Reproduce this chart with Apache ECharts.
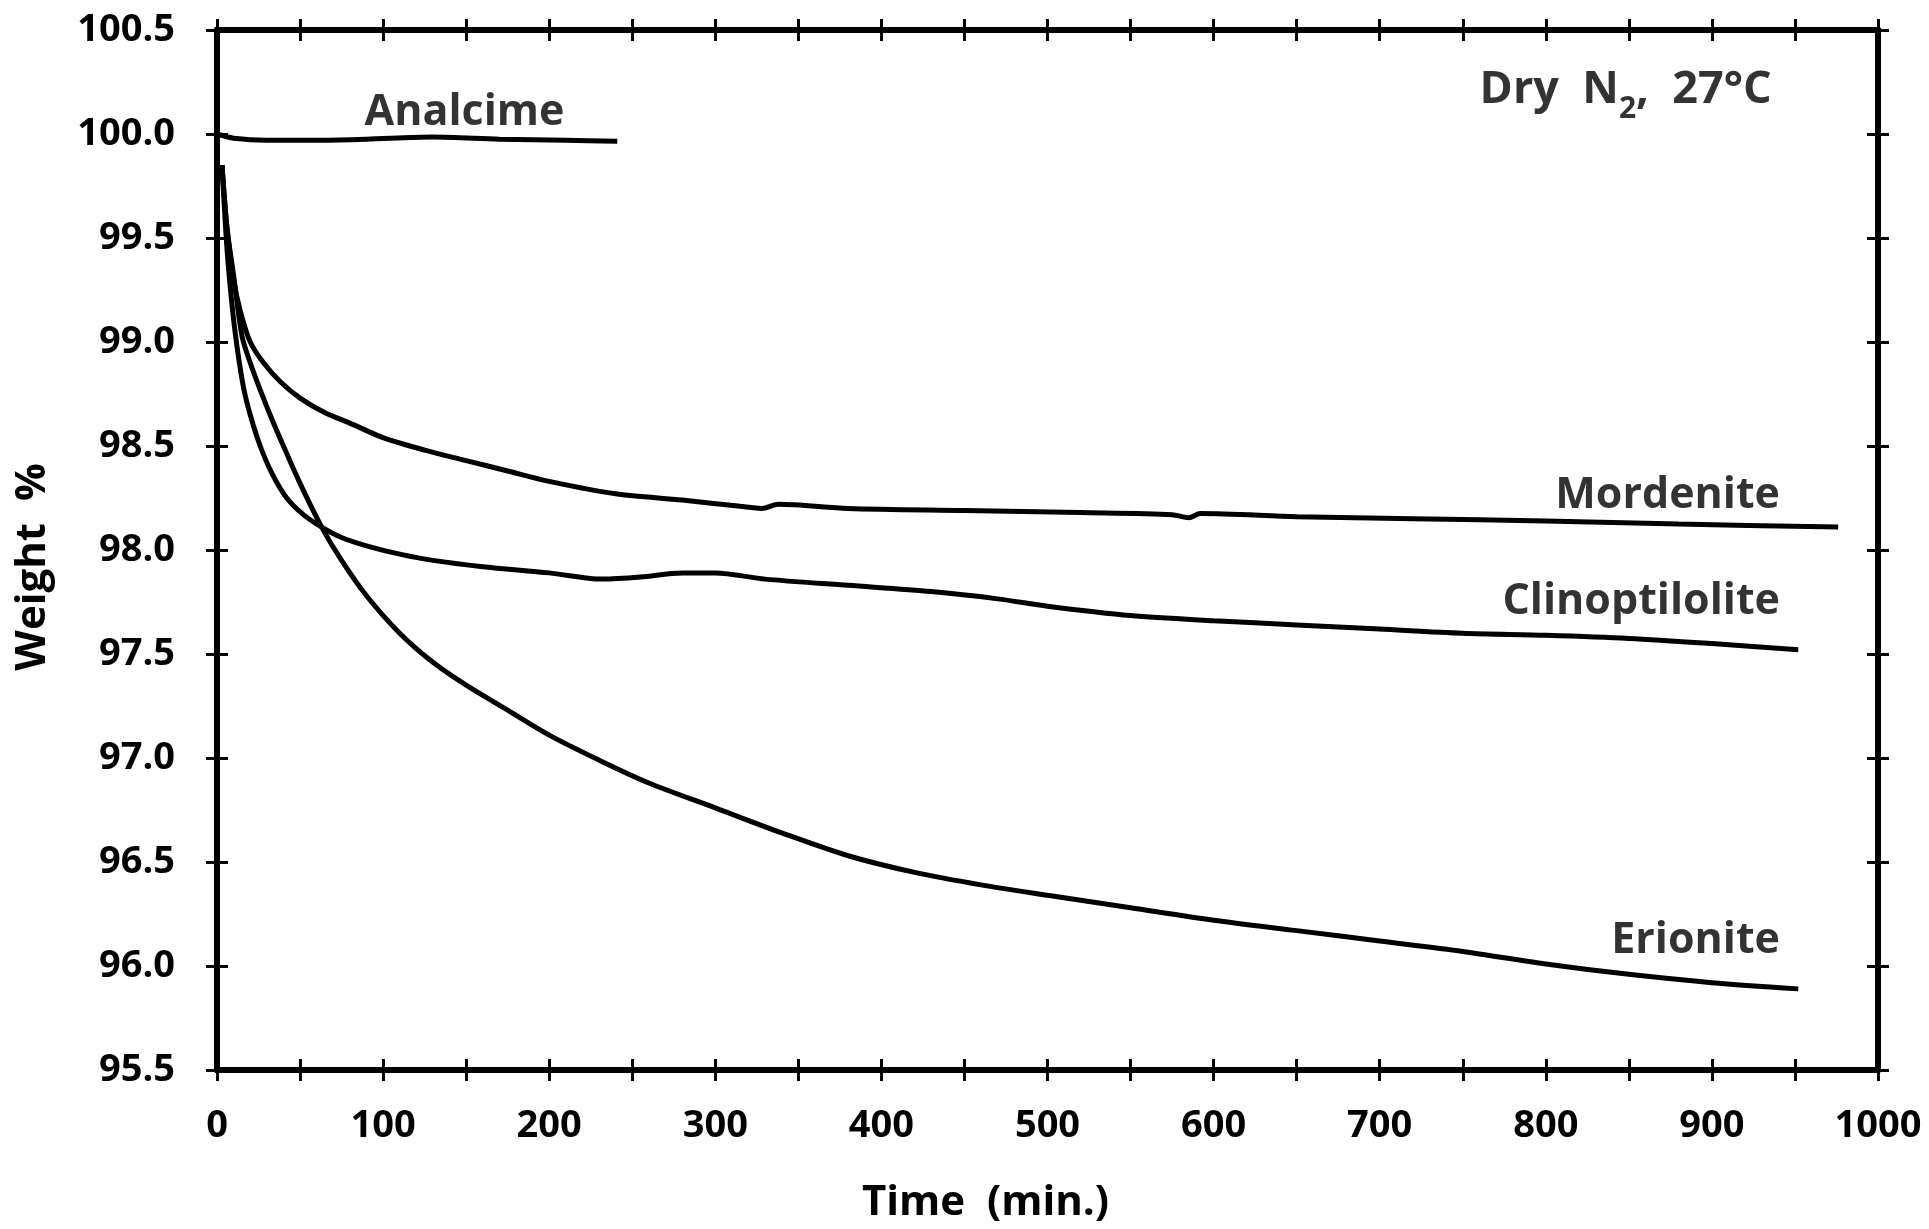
<!DOCTYPE html>
<html>
<head>
<meta charset="utf-8">
<script src="https://cdn.jsdelivr.net/npm/echarts@6/dist/echarts.min.js"></script>
<style>
  html, body { margin: 0; padding: 0; background: #fff; }
  #main { width: 1929px; height: 1229px; }
</style>
</head>
<body>
<div id="main"></div>
<script>
// weight loss under dry N2 at 27 C
const analcimeTime = [0, 10, 30, 60, 90, 130, 170, 210, 241];
const analcimeWeight = [100.0, 99.98, 99.97, 99.97, 99.975, 99.985, 99.975, 99.97, 99.965];

const mordeniteTime = [3, 6, 10, 14, 20, 28, 38, 50, 65, 80, 100, 125, 150, 175, 200, 240, 280, 315, 328, 338, 380, 450, 520, 575, 585, 592, 650, 720, 800, 880, 976];
const mordeniteWeight = [99.85, 99.55, 99.3, 99.15, 99.0, 98.9, 98.81, 98.73, 98.66, 98.61, 98.54, 98.48, 98.43, 98.38, 98.33, 98.27, 98.24, 98.21, 98.2, 98.22, 98.2, 98.19, 98.18, 98.17, 98.155, 98.175, 98.16, 98.15, 98.14, 98.125, 98.11];

const clinoTime = [3, 6, 9, 12, 16, 20, 26, 33, 42, 52, 63, 75, 90, 110, 130, 160, 200, 232, 255, 280, 300, 330, 380, 430, 470, 500, 550, 600, 650, 700, 750, 800, 850, 900, 952];
const clinoWeight = [99.85, 99.45, 99.18, 98.98, 98.78, 98.65, 98.5, 98.37, 98.25, 98.17, 98.11, 98.06, 98.02, 97.98, 97.95, 97.92, 97.89, 97.86, 97.87, 97.89, 97.89, 97.86, 97.83, 97.8, 97.765, 97.73, 97.685, 97.66, 97.64, 97.62, 97.6, 97.59, 97.575, 97.55, 97.52];

const erioniteTime = [3, 6, 10, 15, 20, 26, 33, 40, 50, 63, 75, 90, 110, 130, 150, 175, 200, 230, 260, 300, 340, 380, 420, 460, 500, 550, 600, 650, 700, 750, 800, 850, 900, 952];
const erioniteWeight = [99.85, 99.55, 99.32, 99.03, 98.9, 98.77, 98.63, 98.5, 98.32, 98.11, 97.95, 97.78, 97.6, 97.46, 97.35, 97.23, 97.11, 96.99, 96.88, 96.76, 96.64, 96.53, 96.45, 96.39, 96.34, 96.28, 96.22, 96.17, 96.12, 96.07, 96.01, 95.96, 95.92, 95.89];

// text notes: [time, weight, text, align]
const notes = [
  [149, 100.1, 'Analcime', 'center'],
  [941, 98.26, 'Mordenite', 'right'],
  [941, 97.75, 'Clinoptilolite', 'right'],
  [941, 96.12, 'Erionite', 'right']
];

const FONT = 'Open Sans';

function pairs(xs, ys) {
  return xs.map((x, i) => [x, ys[i]]);
}

//时间轴 (two per side so the ticks cross the line)
function timeAxis(pos, inside, labels) {
  return {
    type: 'value',
    position: pos,
    min: 0,
    max: 1000,
    interval: 50,
    name: labels ? 'Time  (min.)' : '',
    nameLocation: 'middle',
    nameGap: 112,
    nameTextStyle: {
      fontFamily: FONT, fontWeight: 'bold', fontSize: 42, color: '#000',
      padding: [0, 124, 0, 0]
    },
    axisLine: { show: true, onZero: false, lineStyle: { color: '#000', width: 6 } },
    axisTick: { show: true, inside: inside, length: 11, lineStyle: { color: '#000', width: 3 } },
    axisLabel: {
      show: labels,
      margin: 37,
      fontFamily: FONT, fontWeight: 'bold', fontSize: 38, color: '#000',
      formatter: v => (v % 100 === 0 ? String(v) : '')
    },
    splitLine: { show: false }
  };
}

function weightAxis(pos, inside, labels) {
  return {
    type: 'value',
    position: pos,
    min: 95.5,
    max: 100.5,
    interval: 0.5,
    name: labels ? 'Weight  %' : '',
    nameLocation: 'middle',
    nameGap: 163,
    nameRotate: 90,
    nameTextStyle: {
      fontFamily: FONT, fontWeight: 'bold', fontSize: 42, color: '#000',
      padding: [0, 34, 0, 0]
    },
    axisLine: { show: true, onZero: false, lineStyle: { color: '#000', width: 6 } },
    axisTick: { show: true, inside: inside, length: 11, lineStyle: { color: '#000', width: 3 } },
    axisLabel: {
      show: labels,
      margin: 42,
      fontFamily: FONT, fontWeight: 'bold', fontSize: 38, color: '#000',
      formatter: v => v.toFixed(1)
    },
    splitLine: { show: false }
  };
}

function curve(name, xs, ys) {
  return {
    name: name,
    type: 'line',
    data: pairs(xs, ys),
    showSymbol: false,
    smooth: 0.3,
    lineStyle: { color: '#000', width: 5 },
    silent: true
  };
}

const chart = echarts.init(document.getElementById('main'));

let options = {
  animation: false,
  backgroundColor: '#fff',
  grid: { left: 217, right: 51, top: 30, bottom: 153 },
  xAxis: [
    timeAxis('bottom', false, true),
    timeAxis('bottom', true, false),
    timeAxis('top', false, false),
    timeAxis('top', true, false)
  ],
  yAxis: [
    weightAxis('left', false, true),
    weightAxis('left', true, false),
    weightAxis('right', false, false),
    weightAxis('right', true, false)
  ],
  series: [
    curve('Analcime', analcimeTime, analcimeWeight),
    curve('Mordenite', mordeniteTime, mordeniteWeight),
    curve('Clinoptilolite', clinoTime, clinoWeight),
    curve('Erionite', erioniteTime, erioniteWeight),
    {
      type: 'scatter',
      symbolSize: 0,
      silent: true,
      data: notes.map(n => ({
        value: [n[0], n[1]],
        label: {
          show: true,
          position: 'inside',
          align: n[3],
          verticalAlign: 'middle',
          formatter: n[2],
          fontFamily: FONT, fontWeight: 'bold', fontSize: 43, color: '#000'
        }
      }))
    },
    {
      type: 'scatter',
      symbolSize: 0,
      silent: true,
      data: [{
        value: [936, 100.16],
        label: {
          show: true,
          position: 'inside',
          align: 'right',
          verticalAlign: 'middle',
          formatter: '{t|Dry  N}{s|2}{t|,  27°C}',
          rich: {
            t: { fontFamily: FONT, fontWeight: 'bold', fontSize: 45, color: '#000', lineHeight: 48, verticalAlign: 'bottom', padding: [0, 0, 12, 0] },
            s: { fontFamily: FONT, fontWeight: 'bold', fontSize: 30, color: '#000', lineHeight: 30, verticalAlign: 'bottom' }
          }
        }
      }]
    }
  ]
};

chart.setOption(options);
</script>
</body>
</html>
